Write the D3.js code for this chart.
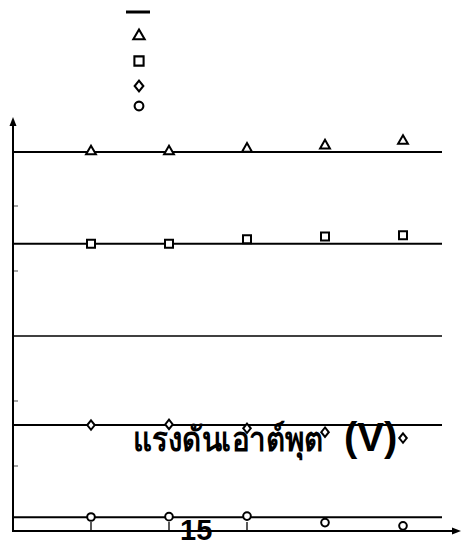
<!DOCTYPE html>
<html>
<head>
<meta charset="utf-8">
<script src="https://cdn.jsdelivr.net/npm/d3@7"></script>
<style>
  body { margin: 0; background: white; }
  svg { display: block; }
</style>
</head>
<body>
<div id="main_content"></div>
<script>
var width = 462, height = 543;

// x positions are sample numbers, y values in tick units (one tick = 1)
var samples = [1, 2, 3, 4, 5];
var triangleVals = [5.84, 5.84, 5.88, 5.93, 6.0];
var squareVals = [4.42, 4.42, 4.49, 4.53, 4.55];
var diamondVals = [1.63, 1.64, 1.58, 1.52, 1.43];
var circleVals = [0.215, 0.22, 0.23, 0.13, 0.08];

var refLines = [5.83, 4.42, 1.63, 0.21];
var midLine = 3.0;
var yTicks = [1, 2, 4, 5];
var xTicks = [1, 2, 3];

var titleThai = 'แรงดันเอาต์พุต';
var titleUnit = '(V)';
var xLabel = '15';

var svg = d3.select('#main_content').append('svg')
  .attr('width', width)
  .attr('height', height)
  .style('background', 'white');

var x = d3.scaleLinear().domain([0, 5.5]).range([13, 442]);
var y = d3.scaleLinear().domain([0, 6]).range([531, 141]);

// y ticks (grey, short)
svg.selectAll('.ytick')
  .data(yTicks)
  .enter().append('line')
  .attr('x1', 13).attr('x2', 18)
  .attr('y1', function(d) { return y(d); })
  .attr('y2', function(d) { return y(d); })
  .attr('stroke', '#888')
  .attr('stroke-width', 1.5);

// x ticks
svg.selectAll('.xtick')
  .data(xTicks)
  .enter().append('line')
  .attr('x1', function(d) { return x(d); })
  .attr('x2', function(d) { return x(d); })
  .attr('y1', 522).attr('y2', 531)
  .attr('stroke', 'black')
  .attr('stroke-width', 1.3);

// horizontal reference lines
svg.selectAll('.ref')
  .data(refLines)
  .enter().append('line')
  .attr('x1', x(0)).attr('x2', x(5.5))
  .attr('y1', function(d) { return y(d); })
  .attr('y2', function(d) { return y(d); })
  .attr('stroke', 'black')
  .attr('stroke-width', 2);

svg.append('line')
  .attr('x1', x(0)).attr('x2', x(5.5))
  .attr('y1', y(midLine)).attr('y2', y(midLine))
  .attr('stroke', 'black')
  .attr('stroke-width', 1.3);

// axes with arrows
svg.append('line')
  .attr('x1', 13).attr('x2', 13)
  .attr('y1', y(0) + 1).attr('y2', 122)
  .attr('stroke', 'black').attr('stroke-width', 2);
svg.append('path')
  .attr('d', 'M13,117 L9.5,126 L16.5,126 Z')
  .attr('fill', 'black');

svg.append('line')
  .attr('x1', 12).attr('x2', 455)
  .attr('y1', y(0)).attr('y2', y(0))
  .attr('stroke', 'black').attr('stroke-width', 2);
svg.append('path')
  .attr('d', 'M461,531 L452,527.5 L452,534.5 Z')
  .attr('fill', 'black');

// wider diamond than d3's default
var wideDiamond = {
  draw: function(ctx, size) {
    var h = Math.sqrt(size) * 0.62, w = h * 0.8;
    ctx.moveTo(0, -h);
    ctx.lineTo(w, 0);
    ctx.lineTo(0, h);
    ctx.lineTo(-w, 0);
    ctx.closePath();
  }
};

var sym = {
  triangle: d3.symbol().type(d3.symbolTriangle).size(42),
  square: d3.symbol().type(d3.symbolSquare).size(64),
  diamond: d3.symbol().type(wideDiamond).size(58),
  circle: d3.symbol().type(d3.symbolCircle).size(46)
};

var series = [
  {vals: triangleVals, shape: 'triangle'},
  {vals: squareVals, shape: 'square'},
  {vals: diamondVals, shape: 'diamond'},
  {vals: circleVals, shape: 'circle'}
];

series.forEach(function(s) {
  svg.selectAll(null)
    .data(s.vals)
    .enter().append('path')
    .attr('d', sym[s.shape])
    .attr('transform', function(d, i) {
      return 'translate(' + x(samples[i]) + ',' + y(d) + ')';
    })
    .attr('fill', 'white')
    .attr('stroke', 'black')
    .attr('stroke-width', 2);
});

// legend (no labels)
svg.append('line')
  .attr('x1', 126).attr('x2', 150)
  .attr('y1', 12).attr('y2', 12)
  .attr('stroke', 'black').attr('stroke-width', 3);

var legendY = [36, 61, 86, 106];
series.forEach(function(s, i) {
  svg.append('path')
    .attr('d', sym[s.shape])
    .attr('transform', 'translate(139,' + legendY[i] + ') scale(1.15)')
    .attr('fill', 'white')
    .attr('stroke', 'black')
    .attr('stroke-width', 1.8);
});

// texts drawn on top
svg.append('text')
  .attr('x', 133).attr('y', 451)
  .attr('font-family', 'Liberation Sans, Arial, sans-serif')
  .attr('font-weight', 'bold')
  .attr('font-size', 34)
  .attr('textLength', 190)
  .attr('lengthAdjust', 'spacingAndGlyphs')
  .attr('fill', 'black')
  .text(titleThai);

svg.append('text')
  .attr('x', 344).attr('y', 451)
  .attr('font-family', 'Liberation Sans, Arial, sans-serif')
  .attr('font-weight', 'bold')
  .attr('font-size', 40)
  .attr('fill', 'black')
  .text(titleUnit);

svg.append('text')
  .attr('x', 180).attr('y', 540)
  .attr('font-family', 'Liberation Sans, Arial, sans-serif')
  .attr('font-weight', 'bold')
  .attr('font-size', 29)
  .attr('fill', 'black')
  .text(xLabel);
</script>
</body>
</html>
